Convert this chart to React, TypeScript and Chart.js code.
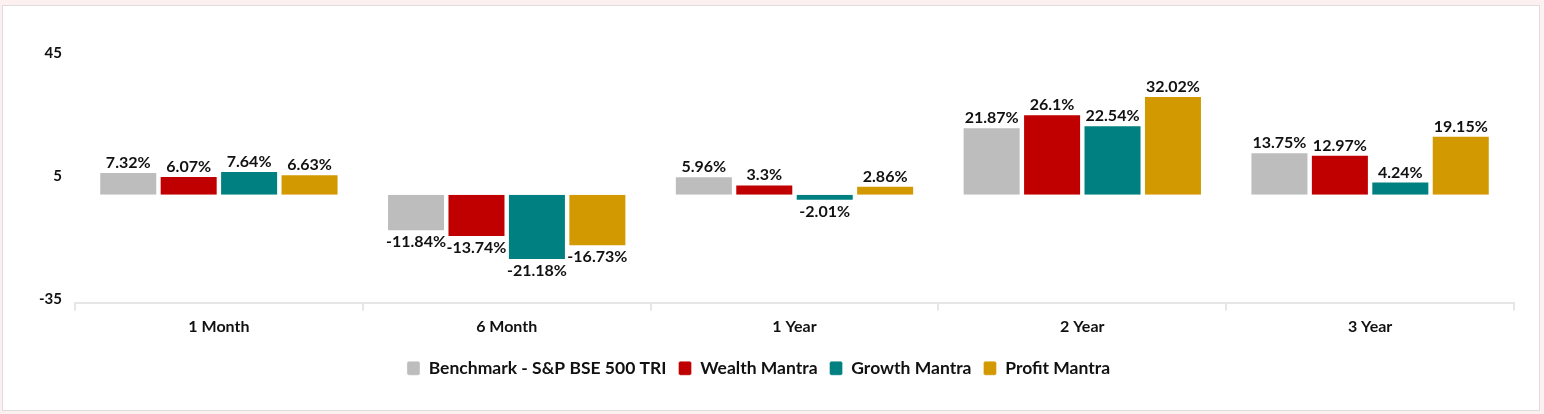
import React, { useEffect, useRef } from 'react';
import { Chart, registerables } from 'chart.js';

Chart.register(...registerables);

const categories = ['1 Month', '6 Month', '1 Year', '2 Year', '3 Year'];
const seriesNames = ['Benchmark - S&P BSE 500 TRI', 'Wealth Mantra', 'Growth Mantra', 'Profit Mantra'];
const benchmark = [7.32, -11.84, 5.96, 21.87, 13.75];
const wealthMantra = [6.07, -13.74, 3.3, 26.1, 12.97];
const growthMantra = [7.64, -21.18, -2.01, 22.54, 4.24];
const profitMantra = [6.63, -16.73, 2.86, 32.02, 19.15];
const yTicks = [-35, 5, 45];
const colors = ['#BDBDBD', '#C00000', '#008080', '#D29A00'];

const FONT = 'Lato, "Open Sans", sans-serif';
const TEXT = '#111111';

const valueLabels = {
  id: 'valueLabels',
  afterDatasetsDraw(chart: any) {
    const ctx = chart.ctx;
    ctx.save();
    ctx.font = `bold 16px ${FONT}`;
    ctx.fillStyle = TEXT;
    ctx.textAlign = 'center';
    ctx.textBaseline = 'alphabetic';
    chart.data.datasets.forEach((ds: any, i: number) => {
      const meta = chart.getDatasetMeta(i);
      if (meta.hidden) return;
      meta.data.forEach((bar: any, j: number) => {
        const v = ds.data[j];
        const { x, y } = bar.getProps(['x', 'y'], true);
        if (v >= 0) ctx.fillText(`${v}%`, x, y - 4);
        else ctx.fillText(`${v}%`, x, y + 16);
      });
    });
    ctx.restore();
  },
};

export default function App() {
  const ref = useRef<HTMLCanvasElement | null>(null);

  useEffect(() => {
    document.body.style.margin = '0';
    document.body.style.background = '#fdf0f0';
    if (!ref.current) return;
    const values = [benchmark, wealthMantra, growthMantra, profitMantra];
    const chart = new Chart(ref.current, {
      type: 'bar',
      data: {
        labels: categories,
        datasets: values.map((d, i) => ({
          label: seriesNames[i],
          data: d,
          backgroundColor: colors[i],
          borderColor: 'rgba(255,255,255,0.35)',
          borderWidth: 1,
          categoryPercentage: 0.84,
          barPercentage: 0.96,
        })),
      },
      options: {
        animation: false,
        responsive: false,
        maintainAspectRatio: false,
        layout: { padding: { left: 0, right: 25, top: 50, bottom: 23 } },
        plugins: {
          tooltip: { enabled: false },
          legend: {
            position: 'bottom',
            labels: {
              boxWidth: 13,
              boxHeight: 14,
              useBorderRadius: true,
              borderRadius: 2,
              padding: 12,
              color: TEXT,
              font: { family: FONT, size: 17.5, weight: 'bold' },
            },
          },
        },
        scales: {
          x: {
            grid: {
              display: true,
              drawOnChartArea: false,
              offset: true,
              tickLength: 8,
              color: '#e6e6e6',
              lineWidth: 2,
            },
            border: { display: true, color: '#e6e6e6', width: 2 },
            ticks: {
              color: TEXT,
              padding: 7,
              font: { family: FONT, size: 16, weight: 'bold' },
            },
            afterFit: (scale: any) => {
              scale.height = 45;
            },
          },
          y: {
            min: -35,
            max: 45,
            grid: { display: false, drawTicks: false },
            border: { display: false },
            ticks: {
              stepSize: 40,
              padding: 13,
              labelOffset: -3,
              color: TEXT,
              font: { family: FONT, size: 15, weight: 'bold' },
            },
            afterBuildTicks: (scale: any) => {
              scale.ticks = yTicks.map((v) => ({ value: v }));
            },
            afterFit: (scale: any) => {
              scale.width = 72;
            },
          },
        },
      },
      plugins: [valueLabels],
    } as any);
    return () => chart.destroy();
  }, []);

  return (
    <div
      style={{
        position: 'absolute',
        left: 2,
        top: 5,
        width: 1536,
        height: 404,
        border: '1px solid #e0dcdc',
        background: '#ffffff',
      }}
    >
      <canvas ref={ref} width={1536} height={404} style={{ display: 'block', width: 1536, height: 404 }} />
    </div>
  );
}
